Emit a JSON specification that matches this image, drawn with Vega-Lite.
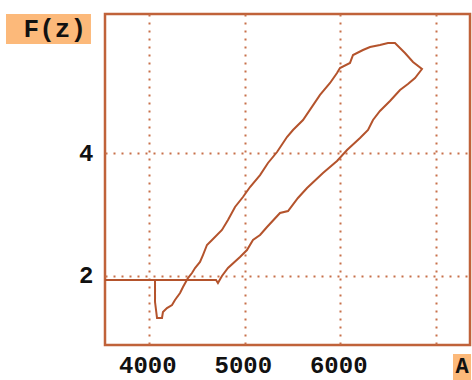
{
  "$schema": "https://vega.github.io/schema/vega-lite/v6.json",
  "width": 365,
  "height": 331,
  "autosize": "none",
  "padding": {"left": 105, "top": 14, "right": 2, "bottom": 35},
  "background": "white",
  "config": {
    "view": {"stroke": "#c0623a", "strokeWidth": 2.5},
    "axis": {
      "labelFont": "Liberation Mono",
      "labelFontWeight": "bold",
      "labelFontSize": 24,
      "labelColor": "#111111",
      "ticks": false,
      "domain": false,
      "gridColor": "#c8704a",
      "gridDash": [2, 6],
      "gridWidth": 2,
      "gridOpacity": 1
    }
  },
  "layer": [
    {
      "data": {
        "values": [
          {"i": 1, "x": 3536, "y": 1.93},
          {"i": 2, "x": 4060, "y": 1.93},
          {"i": 3, "x": 4060, "y": 1.57},
          {"i": 4, "x": 4081, "y": 1.309},
          {"i": 5, "x": 4133, "y": 1.309},
          {"i": 6, "x": 4143, "y": 1.407},
          {"i": 7, "x": 4185, "y": 1.472},
          {"i": 8, "x": 4238, "y": 1.521},
          {"i": 9, "x": 4269, "y": 1.603},
          {"i": 10, "x": 4322, "y": 1.717},
          {"i": 11, "x": 4353, "y": 1.815},
          {"i": 12, "x": 4405, "y": 1.962},
          {"i": 13, "x": 4447, "y": 2.044},
          {"i": 14, "x": 4479, "y": 2.126},
          {"i": 15, "x": 4531, "y": 2.224},
          {"i": 16, "x": 4562, "y": 2.338},
          {"i": 17, "x": 4604, "y": 2.502},
          {"i": 18, "x": 4657, "y": 2.583},
          {"i": 19, "x": 4761, "y": 2.747},
          {"i": 20, "x": 4824, "y": 2.91},
          {"i": 21, "x": 4898, "y": 3.123},
          {"i": 22, "x": 4981, "y": 3.286},
          {"i": 23, "x": 5055, "y": 3.449},
          {"i": 24, "x": 5160, "y": 3.645},
          {"i": 25, "x": 5243, "y": 3.842},
          {"i": 26, "x": 5338, "y": 4.021},
          {"i": 27, "x": 5442, "y": 4.266},
          {"i": 28, "x": 5505, "y": 4.381},
          {"i": 29, "x": 5610, "y": 4.544},
          {"i": 30, "x": 5788, "y": 4.953},
          {"i": 31, "x": 5893, "y": 5.149},
          {"i": 32, "x": 5966, "y": 5.312},
          {"i": 33, "x": 5997, "y": 5.394},
          {"i": 34, "x": 6102, "y": 5.476},
          {"i": 35, "x": 6134, "y": 5.606},
          {"i": 36, "x": 6238, "y": 5.688},
          {"i": 37, "x": 6312, "y": 5.737},
          {"i": 38, "x": 6416, "y": 5.77},
          {"i": 39, "x": 6500, "y": 5.802},
          {"i": 40, "x": 6573, "y": 5.802},
          {"i": 41, "x": 6678, "y": 5.639},
          {"i": 42, "x": 6762, "y": 5.492},
          {"i": 43, "x": 6856, "y": 5.377},
          {"i": 44, "x": 6783, "y": 5.23},
          {"i": 45, "x": 6709, "y": 5.132},
          {"i": 46, "x": 6626, "y": 5.034},
          {"i": 47, "x": 6521, "y": 4.855},
          {"i": 48, "x": 6416, "y": 4.691},
          {"i": 49, "x": 6343, "y": 4.544},
          {"i": 50, "x": 6291, "y": 4.381},
          {"i": 51, "x": 6207, "y": 4.25},
          {"i": 52, "x": 6071, "y": 4.054},
          {"i": 53, "x": 5966, "y": 3.874},
          {"i": 54, "x": 5819, "y": 3.678},
          {"i": 55, "x": 5652, "y": 3.433},
          {"i": 56, "x": 5557, "y": 3.27},
          {"i": 57, "x": 5453, "y": 3.057},
          {"i": 58, "x": 5369, "y": 3.025},
          {"i": 59, "x": 5233, "y": 2.796},
          {"i": 60, "x": 5160, "y": 2.665},
          {"i": 61, "x": 5086, "y": 2.583},
          {"i": 62, "x": 5023, "y": 2.42},
          {"i": 63, "x": 4950, "y": 2.306},
          {"i": 64, "x": 4824, "y": 2.126},
          {"i": 65, "x": 4761, "y": 1.995},
          {"i": 66, "x": 4719, "y": 1.881},
          {"i": 67, "x": 4699, "y": 1.93},
          {"i": 68, "x": 4060, "y": 1.93}
        ]
      },
      "mark": {"type": "line", "color": "#b4532c", "strokeWidth": 2, "strokeJoin": "miter"},
      "encoding": {
        "x": {
          "field": "x", "type": "quantitative",
          "scale": {"domain": [3536, 7359], "nice": false, "zero": false},
          "axis": {"values": [4000, 5000, 6000, 7000], "format": "d", "title": null, "labelPadding": 8, "labelOffset": -2, "labelExpr": "datum.value == 7000 ? '' : datum.label"}
        },
        "y": {
          "field": "y", "type": "quantitative",
          "scale": {"domain": [0.868, 6.276], "nice": false, "zero": false},
          "axis": {"values": [2, 4], "format": "d", "title": null, "labelPadding": 12}
        },
        "order": {"field": "i", "type": "quantitative"}
      }
    },
    {
      "data": {
        "values": [
          {"box": "F", "x1": 2499, "x2": 3389, "y1": 5.786, "y2": 6.276},
          {"box": "A", "x1": 7181, "x2": 7370, "y1": 0.296, "y2": 0.721}
        ]
      },
      "mark": {"type": "rect", "color": "#fcb97a"},
      "encoding": {
        "x": {"field": "x1", "type": "quantitative"},
        "x2": {"field": "x2"},
        "y": {"field": "y1", "type": "quantitative"},
        "y2": {"field": "y2"}
      }
    },
    {
      "data": {"values": [{"label": "F(z)", "x": 3010, "y": 6.03}]},
      "mark": {"type": "text", "font": "Liberation Mono", "fontWeight": "bold", "fontSize": 26, "color": "#111111", "align": "center", "baseline": "middle"},
      "encoding": {
        "x": {"field": "x", "type": "quantitative"},
        "y": {"field": "y", "type": "quantitative"},
        "text": {"field": "label"}
      }
    },
    {
      "data": {"values": [{"label": "A", "x": 7275, "y": 0.53}]},
      "mark": {"type": "text", "font": "Liberation Mono", "fontWeight": "bold", "fontSize": 22, "color": "#111111", "align": "center", "baseline": "middle"},
      "encoding": {
        "x": {"field": "x", "type": "quantitative"},
        "y": {"field": "y", "type": "quantitative"},
        "text": {"field": "label"}
      }
    }
  ]
}
